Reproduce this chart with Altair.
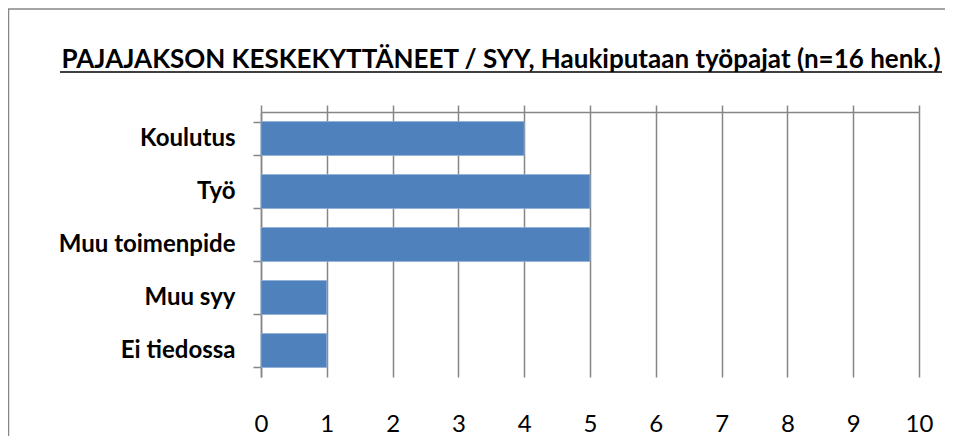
import altair as alt
import pandas as pd

categories = ["Koulutus", "Työ", "Muu toimenpide", "Muu syy", "Ei tiedossa"]
values = [4, 5, 5, 1, 1]
x_ticks = list(range(0, 11))
TITLE = "PAJAJAKSON KESKEKYTTÄNEET / SYY, Haukiputaan työpajat (n=16 henk.)"

df = pd.DataFrame({"cat": categories, "val": values})
GRID = "#868686"
BAR = "#4F81BD"
FONT = "Lato"

xscale = alt.Scale(domain=[0, 10], nice=False)
yscale = alt.Scale(paddingInner=0.36, paddingOuter=0.18)
yaxis = alt.Axis(domain=True, domainColor=GRID, domainWidth=1.5, ticks=True,
                 tickBand="extent", tickSize=8, tickColor=GRID, tickWidth=1.5,
                 labelFont=FONT, labelFontWeight="bold", labelFontSize=24,
                 labelColor="black", labelPadding=18, grid=False)

bars = alt.Chart(df).mark_bar(color=BAR, stroke="#8fb0d8", strokeWidth=0.8).encode(
    x=alt.X("val:Q", scale=xscale, title=None,
            axis=alt.Axis(orient="top", values=x_ticks, labels=False, domain=True,
                          domainColor=GRID, domainWidth=1.5, ticks=True, tickSize=7,
                          tickColor=GRID, tickWidth=1.5, grid=True, gridColor=GRID,
                          gridWidth=1.5, gridOpacity=1)),
    y=alt.Y("cat:N", sort=categories, title=None, scale=yscale, axis=yaxis),
)

ticklabels = alt.Chart(df).mark_bar(opacity=0).encode(
    x=alt.X("val:Q", scale=xscale, title=None,
            axis=alt.Axis(orient="bottom", values=x_ticks, labels=True, domain=False,
                          ticks=False, grid=False, labelFont=FONT, labelFontSize=24,
                          labelFlush=False, labelColor="black", labelPadding=35)),
    y=alt.Y("cat:N", sort=categories, title=None, scale=yscale, axis=yaxis),
)

border = alt.Chart(alt.Data(values=[{}])).mark_rect(
    filled=False, stroke=GRID, strokeWidth=1.5
).encode(x=alt.value(-252.5), x2=alt.value(720), y=alt.value(-103), y2=alt.value(360))

title = alt.Chart(pd.DataFrame({"t": [TITLE]})).mark_text(
    font=FONT, fontWeight="bold", fontSize=26, color="black", align="center",
    baseline="alphabetic"
).encode(text="t:N", x=alt.value(240), y=alt.value(-44))

underline = alt.Chart(alt.Data(values=[{}])).mark_rule(
    color="black", strokeWidth=1.5
).encode(x=alt.value(-201), x2=alt.value(681), y=alt.value(-40))

chart = alt.layer(ticklabels, bars, border, title, underline).resolve_axis(
    x="independent"
).properties(
    width=658, height=265,
    padding={"left": 253, "top": 104, "right": 26, "bottom": 59},
    autosize=alt.AutoSizeParams(type="none"),
    background="white",
).configure_view(strokeWidth=0)

chart.save("out.html", embed_options={"renderer": "svg", "actions": False})
